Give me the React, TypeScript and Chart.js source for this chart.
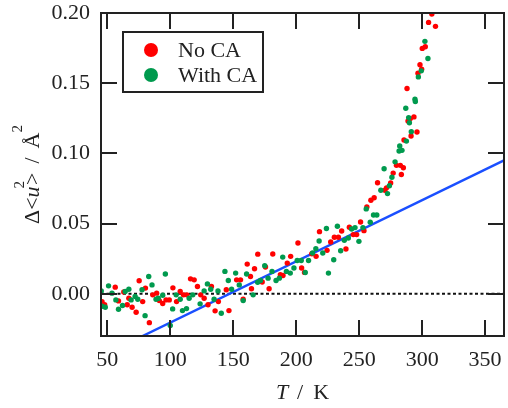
import React, { useEffect, useRef } from 'react';
import { Chart, registerables } from 'chart.js';
Chart.register(...registerables);

// ---- data ----
const noCaT = [45.8, 47.9, 56.3, 58.9, 63.1, 65.8, 67.1, 69.7, 72.9, 75.3, 78.1, 80.3, 83.4, 86.1, 89.2, 91.3, 94.0, 96.6, 99.2, 102.1, 105.0, 107.9, 110.5, 113.2, 116.1, 119.0, 121.6, 124.2, 126.9, 130.0, 132.7, 135.6, 138.2, 144.5, 146.6, 152.7, 155.8, 157.9, 161.1, 163.7, 164.5, 166.9, 169.5, 173.0, 175.6, 178.5, 181.4, 187.4, 189.5, 192.9, 195.6, 201.4, 204.3, 206.6, 212.4, 215.8, 218.5, 224.5, 227.4, 230.3, 233.5, 236.1, 239.5, 242.2, 245.3, 248.0, 251.1, 253.8, 256.1, 259.3, 261.9, 264.6, 270.4, 271.7, 275.0, 277.0, 279.6, 282.7, 283.5, 285.1, 285.6, 288.0, 288.8, 290.6, 291.2, 293.5, 295.9, 296.7, 298.3, 299.6, 300.1, 302.5, 305.1, 307.7, 310.6];
const noCaV = [-0.0055, -0.0078, 0.0048, -0.005, 0.0014, -0.0078, -0.0031, -0.0095, -0.0131, 0.0093, -0.0055, 0.0041, -0.0205, -0.0007, 0.0005, -0.0048, -0.0069, -0.0043, -0.0043, 0.0043, -0.0055, 0.0017, -0.0007, -0.0007, 0.0107, 0.01, 0.0052, -0.0007, -0.0031, -0.0078, 0.0052, -0.0121, -0.0055, 0.0029, -0.0119, 0.01, 0.01, -0.0038, 0.0212, 0.0124, 0.0036, 0.0179, 0.0283, 0.0084, 0.0191, 0.0036, 0.0284, 0.0136, 0.0131, 0.0219, 0.0267, 0.0362, 0.0184, 0.0153, 0.0286, 0.0267, 0.0443, 0.031, 0.0369, 0.0403, 0.0403, 0.0448, 0.0319, 0.0474, 0.0422, 0.0422, 0.0512, 0.045, 0.0619, 0.0667, 0.0684, 0.0791, 0.0738, 0.0755, 0.079, 0.086, 0.0915, 0.0915, 0.085, 0.0898, 0.1096, 0.1462, 0.1231, 0.1248, 0.1124, 0.126, 0.1153, 0.1571, 0.1631, 0.16, 0.1748, 0.176, 0.1933, 0.1993, 0.1905];

const withCaT = [45.2, 45.8, 48.4, 51.0, 53.7, 56.8, 58.9, 62.1, 64.2, 67.1, 68.9, 72.1, 74.2, 77.6, 80.0, 82.9, 85.5, 88.7, 90.5, 94.0, 96.1, 100.0, 101.9, 104.7, 107.9, 109.7, 112.9, 115.0, 117.9, 123.7, 126.9, 129.5, 132.1, 134.8, 137.9, 140.5, 143.4, 146.1, 148.7, 151.9, 154.8, 157.9, 160.6, 165.8, 169.4, 171.6, 175.0, 177.7, 180.8, 184.0, 186.6, 189.3, 192.2, 195.3, 198.2, 200.8, 204.0, 207.2, 209.8, 213.0, 215.6, 218.2, 221.1, 224.0, 225.6, 229.8, 232.7, 235.3, 238.2, 241.4, 244.0, 246.7, 249.8, 253.0, 255.6, 258.8, 261.4, 264.0, 267.2, 269.8, 272.5, 274.0, 276.0, 278.5, 281.7, 282.2, 284.0, 287.0, 287.5, 289.3, 289.9, 291.4, 294.3, 294.6, 297.0, 299.3, 302.2, 304.6];
const withCaV = [0.0021, -0.0088, -0.0095, 0.0057, 0.0005, -0.0043, -0.0109, -0.0083, 0.0017, 0.0033, -0.0043, -0.0019, -0.0038, 0.0029, -0.0155, 0.0124, 0.0064, -0.0038, -0.0031, -0.001, 0.0141, -0.0225, -0.0107, -0.0007, -0.0038, -0.0119, -0.0105, -0.0031, -0.0007, -0.0071, 0.0021, 0.0071, 0.0033, -0.0038, 0.0021, -0.0138, 0.016, 0.0095, 0.0033, 0.0148, 0.0064, -0.0048, 0.0141, -0.0007, 0.0082, 0.0095, 0.02, 0.0112, 0.016, 0.0095, 0.0112, 0.0262, 0.016, 0.0148, 0.0184, 0.0238, 0.0238, 0.0152, 0.0238, 0.0291, 0.0322, 0.0376, 0.0291, 0.0465, 0.0148, 0.0243, 0.0481, 0.0307, 0.0381, 0.0398, 0.0462, 0.0472, 0.0374, 0.0472, 0.0605, 0.051, 0.0562, 0.0562, 0.0738, 0.0891, 0.0714, 0.077, 0.083, 0.094, 0.1017, 0.1053, 0.1022, 0.1322, 0.1088, 0.1255, 0.1219, 0.1155, 0.1386, 0.137, 0.1545, 0.1588, 0.1798, 0.1676];

const fitT = [78, 365];
const fitV = [-0.03, 0.095];
const zeroT = [45, 365];
const zeroV = [0, 0];

const xTicks = [50, 100, 150, 200, 250, 300, 350];
const yTicks = [0, 0.05, 0.1, 0.15, 0.2];
const seriesNames = ['No CA', 'With CA'];
const seriesColors = ['#ff0000', '#009a4e'];

const FONT = '"Liberation Serif", "Times New Roman", serif';
const INK = '#222222';

const pts = (xs: number[], ys: number[]) => xs.map((x, i) => ({ x, y: ys[i] }));

const decorPlugin = {
  id: 'decor',
  afterDraw(chart: any) {
    const { ctx, chartArea: a, scales } = chart;
    const xs = scales.x, ys = scales.y;
    ctx.save();
    // frame
    ctx.strokeStyle = INK;
    ctx.lineWidth = 2;
    ctx.strokeRect(a.left, a.top, a.right - a.left, a.bottom - a.top);
    // inward ticks
    const L = 16;
    ctx.beginPath();
    xTicks.forEach((t) => {
      const px = Math.round(xs.getPixelForValue(t));
      ctx.moveTo(px, a.bottom); ctx.lineTo(px, a.bottom - L);
      ctx.moveTo(px, a.top); ctx.lineTo(px, a.top + L);
    });
    yTicks.forEach((t) => {
      const py = Math.round(ys.getPixelForValue(t));
      ctx.moveTo(a.left, py); ctx.lineTo(a.left + L, py);
      ctx.moveTo(a.right, py); ctx.lineTo(a.right - L, py);
    });
    ctx.stroke();

    // legend
    const bx = 123, by = 32, bw = 140, bh = 60;
    ctx.fillStyle = '#ffffff';
    ctx.fillRect(bx, by, bw, bh);
    ctx.strokeRect(bx, by, bw, bh);
    ctx.font = `22px ${FONT}`;
    ctx.textBaseline = 'middle';
    ctx.textAlign = 'left';
    seriesNames.forEach((n, i) => {
      const cy = by + 18 + i * 25;
      ctx.fillStyle = seriesColors[i];
      ctx.beginPath();
      ctx.arc(bx + 28, cy, 7, 0, Math.PI * 2);
      ctx.fill();
      ctx.fillStyle = INK;
      ctx.fillText(n, bx + 55, cy + 1);
    });

    const drawSegs = (segs: { t: string; f: string; dy?: number; gap?: number }[], cx: number, cy: number) => {
      let total = 0;
      segs.forEach((s) => { ctx.font = s.f; total += ctx.measureText(s.t).width + (s.gap || 0); });
      let x = cx - total / 2;
      segs.forEach((s) => {
        ctx.font = s.f;
        ctx.fillText(s.t, x, cy + (s.dy || 0));
        x += ctx.measureText(s.t).width + (s.gap || 0);
      });
    };
    ctx.fillStyle = INK;
    ctx.textBaseline = 'middle';
    // x title: T / K
    drawSegs([
      { t: 'T', f: `italic 22px ${FONT}`, gap: 9 },
      { t: '/', f: `22px ${FONT}`, gap: 10 },
      { t: 'K', f: `22px ${FONT}` },
    ], (a.left + a.right) / 2, 393);

    // y title
    ctx.save();
    ctx.translate(33, (a.top + a.bottom) / 2);
    ctx.rotate(-Math.PI / 2);
    drawSegs([
      { t: 'Δ<', f: `22px ${FONT}` },
      { t: 'u', f: `italic 22px ${FONT}`, gap: -2 },
      { t: '2', f: `15px ${FONT}`, dy: -13, gap: -4 },
      { t: '>', f: `22px ${FONT}`, gap: 9 },
      { t: '/', f: `22px ${FONT}`, gap: 9 },
      { t: 'Å', f: `22px ${FONT}` },
      { t: '2', f: `15px ${FONT}`, dy: -15 },
    ], 0, 0);
    ctx.restore();

    ctx.restore();
  },
};

export default function App() {
  const ref = useRef<HTMLCanvasElement | null>(null);
  useEffect(() => {
    document.body.style.margin = '0';
    const canvas = ref.current!;
    const chart = new Chart(canvas, {
      type: 'scatter',
      data: {
        datasets: [
          {
            label: seriesNames[1],
            data: pts(withCaT, withCaV),
            backgroundColor: seriesColors[1],
            borderWidth: 0,
            pointRadius: 2.7,
            order: 1,
          },
          {
            label: seriesNames[0],
            data: pts(noCaT, noCaV),
            backgroundColor: seriesColors[0],
            borderWidth: 0,
            pointRadius: 2.7,
            order: 2,
          },
          {
            label: 'fit',
            data: pts(fitT, fitV),
            showLine: true,
            borderColor: '#1a4fff',
            borderWidth: 2.5,
            pointRadius: 0,
            order: 3,
          },
          {
            label: 'zero',
            data: pts(zeroT, zeroV),
            showLine: true,
            borderColor: '#111111',
            borderWidth: 2,
            borderDash: [3, 2.5],
            pointRadius: 0,
            order: 4,
          },
        ] as any,
      },
      options: {
        animation: false,
        responsive: false,
        devicePixelRatio: 1,
        layout: { padding: { left: 0, right: 3, top: 13, bottom: 0 } },
        plugins: { legend: { display: false }, tooltip: { enabled: false } },
        scales: {
          x: {
            type: 'linear',
            min: 45,
            max: 365,
            grid: { display: false, drawTicks: false },
            border: { display: false },
            ticks: {
              color: INK,
              font: { family: FONT, size: 22 },
              padding: 11,
              callback: (v: any) => String(v),
            },
            afterBuildTicks: (s: any) => { s.ticks = xTicks.map((v) => ({ value: v })); },
            afterFit: (s: any) => {
              s.height = 72;
              s.paddingLeft = 0; s.paddingRight = 0; s.paddingTop = 0; s.paddingBottom = 0;
            },
          },
          y: {
            type: 'linear',
            min: -0.03,
            max: 0.2,
            grid: { display: false, drawTicks: false },
            border: { display: false },
            ticks: {
              color: INK,
              font: { family: FONT, size: 22 },
              padding: 11,
              callback: (v: any) => Number(v).toFixed(2),
            },
            afterBuildTicks: (s: any) => { s.ticks = yTicks.map((v) => ({ value: v })); },
            afterFit: (s: any) => {
              s.width = 101;
              s.paddingLeft = 0; s.paddingRight = 0; s.paddingTop = 0; s.paddingBottom = 0;
            },
          },
        },
      } as any,
      plugins: [decorPlugin],
    });
    return () => chart.destroy();
  }, []);
  return (
    <div style={{ width: 508, height: 408 }}>
      <canvas ref={ref} width={508} height={408} />
    </div>
  );
}
